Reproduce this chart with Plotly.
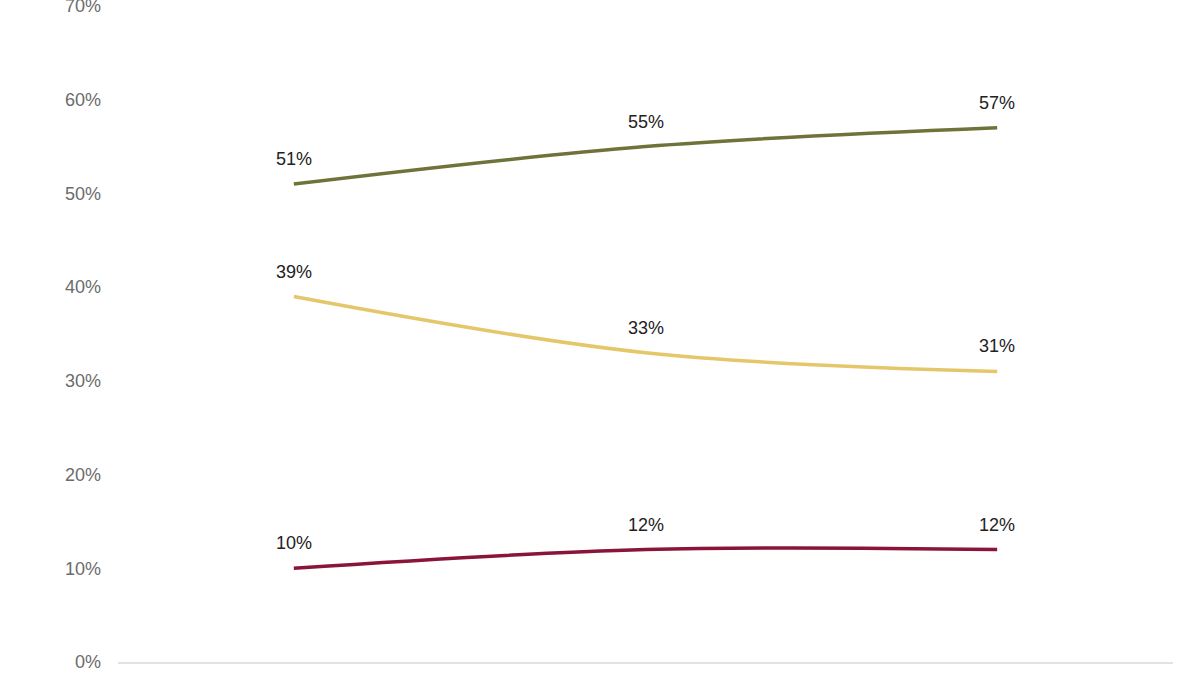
import plotly.graph_objects as go

categories = ["A", "B", "C"]
series_names = ["Series 1", "Series 2", "Series 3"]
values_green = [51, 55, 57]
values_yellow = [39, 33, 31]
values_maroon = [10, 12, 12]
y_ticks = [0, 10, 20, 30, 40, 50, 60, 70]
y_tick_labels = ["0%", "10%", "20%", "30%", "40%", "50%", "60%", "70%"]

colors = ["#6f7339", "#e5c76b", "#8a1538"]
series = [values_green, values_yellow, values_maroon]

fig = go.Figure()
for name, vals, col in zip(series_names, series, colors):
    fig.add_trace(go.Scatter(
        x=categories, y=vals, mode="lines", name=name,
        line=dict(color=col, width=3.5, shape="spline", smoothing=1.0),
        hoverinfo="skip",
    ))
    for c, v in zip(categories, vals):
        fig.add_annotation(x=c, y=v, text=f"{v}%", showarrow=False,
                           yshift=25, font=dict(size=18, color="#222222",
                                                family="Liberation Sans, Arial, sans-serif"))

fig.update_layout(
    width=1200, height=675,
    margin=dict(l=118, r=27, t=6, b=13, autoexpand=False),
    paper_bgcolor="white", plot_bgcolor="white",
    showlegend=False,
    font=dict(family="Liberation Sans, Arial, sans-serif"),
)
fig.update_xaxes(type="category", range=[-0.5, 2.5], showgrid=False,
                 showticklabels=False, showline=True, linecolor="#e2e2e2",
                 linewidth=2, zeroline=False, automargin=False)
fig.update_yaxes(range=[0, 70], tickvals=y_ticks, ticktext=y_tick_labels,
                 showgrid=False, zeroline=False, showline=False,
                 tickfont=dict(size=18, color="#6b6b6b"),
                 ticklabelstandoff=16, ticklabeloverflow="allow",
                 automargin=False)

fig.write_html("out.html")
